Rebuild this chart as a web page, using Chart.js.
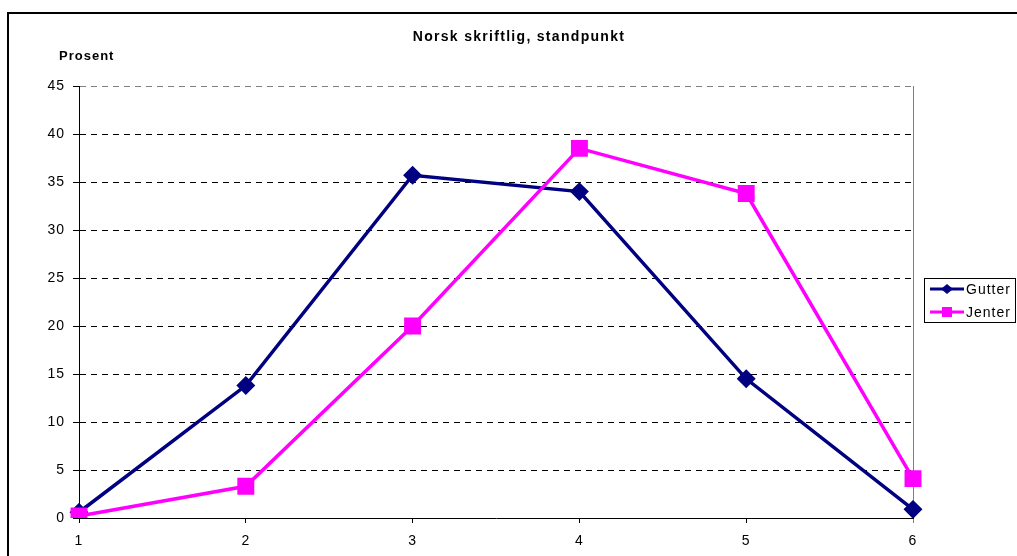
<!DOCTYPE html>
<html>
<head>
<meta charset="utf-8">
<script src="https://cdn.jsdelivr.net/npm/chart.js@4"></script>
<style>
  html, body { margin: 0; padding: 0; background: #fff; }
  canvas { display: block; }
</style>
</head>
<body>
<canvas id="myChart" width="1017" height="556"></canvas>
<script>
// data
var kategorier = ["1", "2", "3", "4", "5", "6"];
var gutter = [0.6, 13.8, 35.7, 34.0, 14.5, 0.9];
var jenter = [0.2, 3.3, 20.0, 38.5, 33.8, 4.1];
var yTicks = [0, 5, 10, 15, 20, 25, 30, 35, 40, 45];

var tittel = "Norsk skriftlig, standpunkt";
var yTittel = "Prosent";
var font = "'Liberation Sans', Arial, sans-serif";

// ramme, tittel, aksetittel og forklaring
var tegnPlugin = {
    id: "tegnPlugin",
    beforeDraw: function (chart) {
        // litt luft mellom bokstavene, som i originalen
        chart.ctx.letterSpacing = "1px";
    },
    afterDraw: function (chart) {
        var ctx = chart.ctx;
        ctx.save();
        // ytre ramme
        ctx.strokeStyle = "#000";
        ctx.lineWidth = 2;
        ctx.strokeRect(8, 13, 1100, 600);

        ctx.fillStyle = "#000";
        ctx.textBaseline = "middle";
        ctx.letterSpacing = "1.3px";
        ctx.font = "bold 14px " + font;
        ctx.textAlign = "center";
        ctx.fillText(tittel, 519, 37);

        ctx.letterSpacing = "1px";
        ctx.font = "bold 13px " + font;
        ctx.textAlign = "left";
        ctx.fillText(yTittel, 59, 56);

        // forklaring
        ctx.lineWidth = 1;
        ctx.strokeRect(924.5, 278.5, 91, 44);
        ctx.font = "14px " + font;
        ctx.letterSpacing = "1px";
        chart.data.datasets.forEach(function (ds, i) {
            var y = 289 + i * 23;
            ctx.strokeStyle = ds.borderColor;
            ctx.lineWidth = 3;
            ctx.beginPath();
            ctx.moveTo(930, y);
            ctx.lineTo(964, y);
            ctx.stroke();
            ctx.fillStyle = ds.borderColor;
            ctx.beginPath();
            if (ds.pointStyle == "rectRot") {
                ctx.moveTo(947, y - 5);
                ctx.lineTo(953, y);
                ctx.lineTo(947, y + 5);
                ctx.lineTo(941, y);
                ctx.closePath();
            } else {
                ctx.rect(942, y - 5, 10, 10);
            }
            ctx.fill();
            ctx.fillStyle = "#000";
            ctx.fillText(ds.label, 966, y + 1);
        });
        ctx.restore();
    }
};

var ctx = document.getElementById("myChart").getContext("2d");
var myChart = new Chart(ctx, {
    type: "line",
    data: {
        labels: kategorier,
        datasets: [
            {
                label: "Gutter",
                data: gutter,
                borderColor: "#000080",
                backgroundColor: "#000080",
                borderWidth: 3.5,
                pointStyle: "rectRot",
                pointRadius: 7,
                pointHoverRadius: 7,
                tension: 0,
                order: 2
            },
            {
                label: "Jenter",
                data: jenter,
                borderColor: "#FF00FF",
                backgroundColor: "#FF00FF",
                borderWidth: 3.5,
                pointStyle: "rect",
                pointRadius: 9.5,
                pointHoverRadius: 9.5,
                tension: 0,
                order: 1
            }
        ]
    },
    options: {
        responsive: false,
        devicePixelRatio: 1,
        animation: false,
        layout: {
            padding: { top: 86, right: 104, left: 0, bottom: 0 }
        },
        plugins: {
            legend: { display: false },
            title: { display: false },
            tooltip: { enabled: false }
        },
        scales: {
            x: {
                offset: false,
                afterFit: function (scale) { scale.height = 38; },
                grid: {
                    color: function (c) {
                        return c.index == kategorier.length - 1 ? "#808080" : "transparent";
                    },
                    tickColor: function (c) {
                        return c.index == kategorier.length - 1 ? "#808080" : "#000";
                    },
                    tickLength: 5,
                    lineWidth: 1
                },
                border: { color: "#000", width: 1 },
                ticks: {
                    color: "#000",
                    padding: 10,
                    maxRotation: 0,
                    font: { family: font, size: 14 }
                }
            },
            y: {
                min: 0,
                max: 45,
                afterFit: function (scale) { scale.width = 79; },
                afterBuildTicks: function (scale) {
                    scale.ticks = yTicks.map(function (v) { return { value: v }; });
                },
                grid: {
                    color: function (c) {
                        return c.tick && c.tick.value == 45 ? "#808080" : "#000";
                    },
                    tickColor: "#000",
                    tickLength: 6,
                    lineWidth: 1
                },
                border: { color: "#000", width: 1, dash: [6, 5] },
                ticks: {
                    color: "#000",
                    padding: 8,
                    font: { family: font, size: 14 }
                }
            }
        }
    },
    plugins: [tegnPlugin]
});
</script>
</body>
</html>
